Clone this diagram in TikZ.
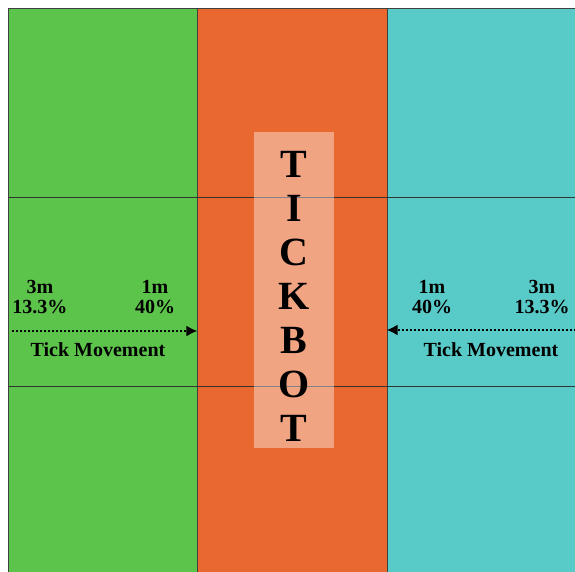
\documentclass[tikz,border=0pt]{standalone}
\usepackage{fontspec}
\setmainfont{Liberation Serif}
\usetikzlibrary{arrows.meta,positioning}

\definecolor{fieldgreen}{RGB}{92,196,74}
\definecolor{botorange}{RGB}{232,104,48}
\definecolor{fieldcyan}{RGB}{88,202,200}

\begin{document}
\begin{tikzpicture}[
    x=1pt, y=-1pt,
    panel/.style={rectangle, draw=black!75, line width=0.8pt, minimum height=566pt, inner sep=0pt},
    zoneline/.style={draw=black!80, line width=0.8pt},
    dist/.style={font=\fontsize{20}{20}\selectfont\bfseries, align=center, inner sep=0pt},
    caption/.style={font=\fontsize{20}{22}\selectfont\bfseries, inner sep=0pt},
    move/.style={line width=2pt, dotted, -{Latex[length=11pt,width=11pt]}},
    botbox/.style={rectangle, fill=white, fill opacity=0.4, minimum width=80pt, minimum height=316pt, inner sep=0pt}
]
\useasboundingbox (0,0) rectangle (575,572);

% Three zones
\node[panel, fill=fieldgreen, minimum width=189pt] (green) at (102.5,291) {};
\node[panel, fill=botorange, minimum width=190pt] (orange) at (292,291) {};
\node[panel, fill=fieldcyan, minimum width=190pt] (cyan) at (482,291) {};

% Distance bands
\draw[zoneline] (8,197) -- (576,197);
\draw[zoneline] (8,386) -- (576,386);

% Robot label
\node[botbox] (tickbox) at (294,290) {};
\node[font=\fontsize{40}{44}\selectfont\bfseries, align=center, inner sep=0pt] (tickbot) at (294,296) {T\\I\\C\\K\\B\\O\\T};

% Left side
\node[dist] (lfar) at (40,297) {3m\\13.3\%};
\node[dist] (lnear) at (155,297) {1m\\40\%};
\coordinate (lstart) at (12,331);
\draw[move] (lstart) -- (lstart -| green.east);
\node[caption] (lmove) at (98,350) {Tick Movement};

% Right side
\node[dist] (rnear) at (432,297) {1m\\40\%};
\node[dist] (rfar) at (542,297) {3m\\13.3\%};
\coordinate (rstart) at (576,330);
\draw[move] (rstart) -- (rstart -| cyan.west);
\node[caption] (rmove) at (491,350) {Tick Movement};

\end{tikzpicture}
\end{document}
